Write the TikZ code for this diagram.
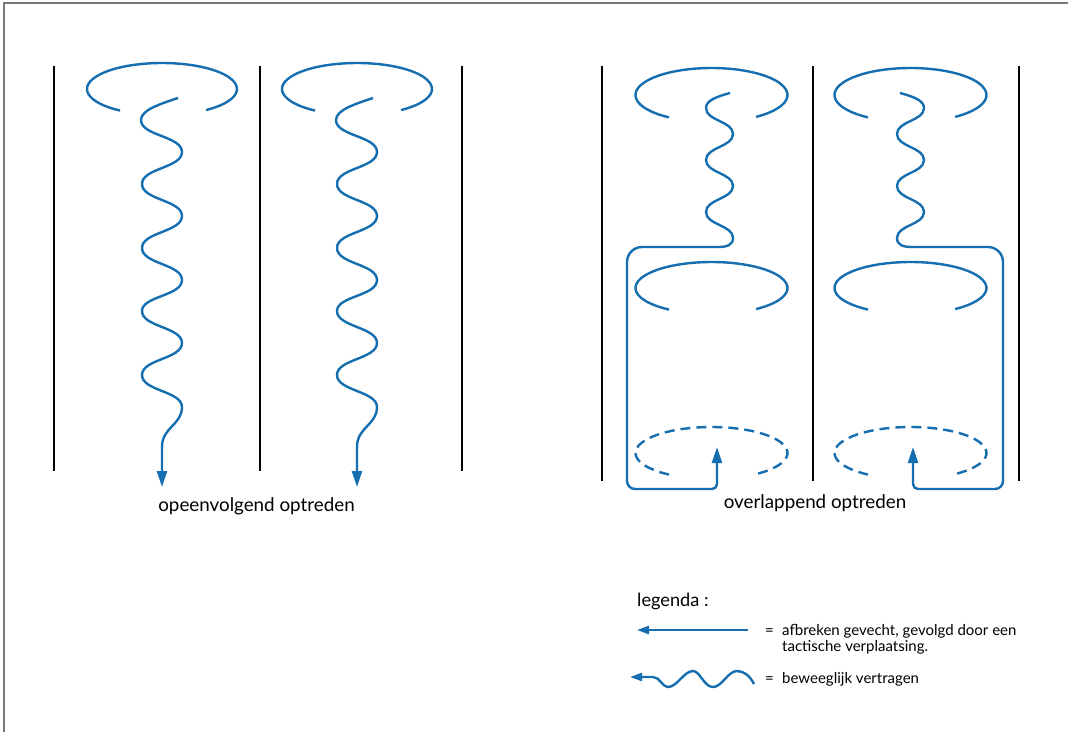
\documentclass[tikz,border=0pt]{standalone}
\usepackage{fontspec}
\setmainfont{Lato}
\usetikzlibrary{arrows.meta}
\definecolor{tblue}{RGB}{20,110,175}
\definecolor{bordergray}{RGB}{120,120,120}
\begin{document}
\begin{tikzpicture}[x=1pt,y=-1pt,
  blk/.style={line width=2pt,black},
  bl/.style={line width=2.4pt,tblue},
  arr/.style={-{Triangle[length=16pt,width=10pt]}},
  sarr/.style={-{Triangle[length=12pt,width=8pt]}},
  dsh/.style={dash pattern=on 10pt off 6pt},
  big/.style={font=\fontsize{18.8}{22}\selectfont,inner sep=0pt,anchor=base},
  mid/.style={font=\fontsize{18.2}{22}\selectfont,inner sep=0pt,anchor=base west},
  small/.style={font=\fontsize{15}{17}\selectfont,inner sep=0pt,anchor=base west}]
\useasboundingbox (0,0) rectangle (1068,732);
\fill[white] (0,0) rectangle (1068,732);
\draw[bordergray,line width=2pt] (4,732) -- (4,3) -- (1068,3);

% black separators
\foreach \x in {54,260,462} \draw[blk] (\x,66) -- (\x,471);
\foreach \x in {602,813,1019} \draw[blk] (\x,66) -- (\x,481);

% left group: two columns
\foreach \s in {0,195} {
\begin{scope}[shift={(\s,0)}]
\draw[bl] (162,89) ++(124:75 and 26) arc[start angle=124,end angle=414,x radius=75,y radius=26];
\draw[bl,arr] (178,98) .. controls (160,104) and (141,110) .. (141,120)
 .. controls (141,136) and (182,136) .. (182,152)
 .. controls (182,168) and (142,168) .. (142,184)
 .. controls (142,200) and (182,200) .. (182,216)
 .. controls (182,232) and (142,232) .. (142,248)
 .. controls (142,264) and (182,264) .. (182,280)
 .. controls (182,296) and (142,296) .. (142,311)
 .. controls (142,327) and (182,327) .. (182,343)
 .. controls (182,359) and (142,359) .. (142,375)
 .. controls (142,391) and (182,391) .. (182,407)
 .. controls (182,425) and (162,427) .. (162,447)
 -- (162,487);
\end{scope}}

% right group: ellipses
\foreach \cx in {711.5,910.5} {
\draw[bl] (\cx,95) ++(124:76 and 27) arc[start angle=124,end angle=414,x radius=76,y radius=27];
\draw[bl] (\cx,288) ++(124:76 and 26) arc[start angle=124,end angle=414,x radius=76,y radius=26];
\draw[bl,dsh] (\cx,453) ++(124:76 and 26) arc[start angle=124,end angle=414,x radius=76,y radius=26];
}

% right group column 1 path
\draw[bl,arr] (730,93) .. controls (715,97) and (706,101) .. (706,108)
 .. controls (706,121) and (733,121) .. (733,134)
 .. controls (733,147) and (706,147) .. (706,160)
 .. controls (706,173) and (733,173) .. (733,186)
 .. controls (733,199) and (706,199) .. (706,212)
 .. controls (706,225) and (733,225) .. (733,238)
 .. controls (733,245) and (727,247) .. (718,247)
 -- (642,247) arc[start angle=-90,end angle=-180,radius=15]
 -- (627,481) arc[start angle=180,end angle=90,radius=8]
 -- (712,489) arc[start angle=90,end angle=0,radius=5]
 -- (717,447);

% right group column 2 path
\draw[bl,arr] (900,93) .. controls (915,97) and (924,101) .. (924,108)
 .. controls (924,121) and (897,121) .. (897,134)
 .. controls (897,147) and (924,147) .. (924,160)
 .. controls (924,173) and (897,173) .. (897,186)
 .. controls (897,199) and (924,199) .. (924,212)
 .. controls (924,225) and (897,225) .. (897,238)
 .. controls (897,245) and (903,247) .. (912,247)
 -- (988,247) arc[start angle=-90,end angle=0,radius=15]
 -- (1003,481) arc[start angle=0,end angle=90,radius=8]
 -- (918,489) arc[start angle=90,end angle=180,radius=5]
 -- (913,447);

% captions
\node[big] (cap1) at (256.5,511) {opeenvolgend optreden};
\node[big] (cap2) at (815,508) {overlappend optreden};

% legend
\node[mid] (leg) at (637,606) {legenda :};
\coordinate (l1a) at (748,630);
\coordinate (l1b) at (637,630);
\draw[bl,sarr] (l1a) -- (l1b);
\node[small] (eq1) at (765,635) {=};
\node[small] (d1a) at (782,635) {afbreken gevecht, gevolgd door een};
\node[small] (d1b) at (782,651) {tactische verplaatsing.};
\coordinate (l2a) at (754,684);
\coordinate (l2b) at (630,677);
\draw[bl,sarr] (l2a) .. controls (750,676) and (744,671) .. (737,671)
 .. controls (728,671) and (722,687) .. (713,687)
 .. controls (704,687) and (700,671) .. (693,671)
 .. controls (684,671) and (677,687) .. (668,687)
 .. controls (662,687) and (660,677) .. (653,677)
 -- (l2b);
\node[small] (eq2) at (765,683) {=};
\node[small] (d2) at (782,683) {beweeglijk vertragen};
\end{tikzpicture}
\end{document}
